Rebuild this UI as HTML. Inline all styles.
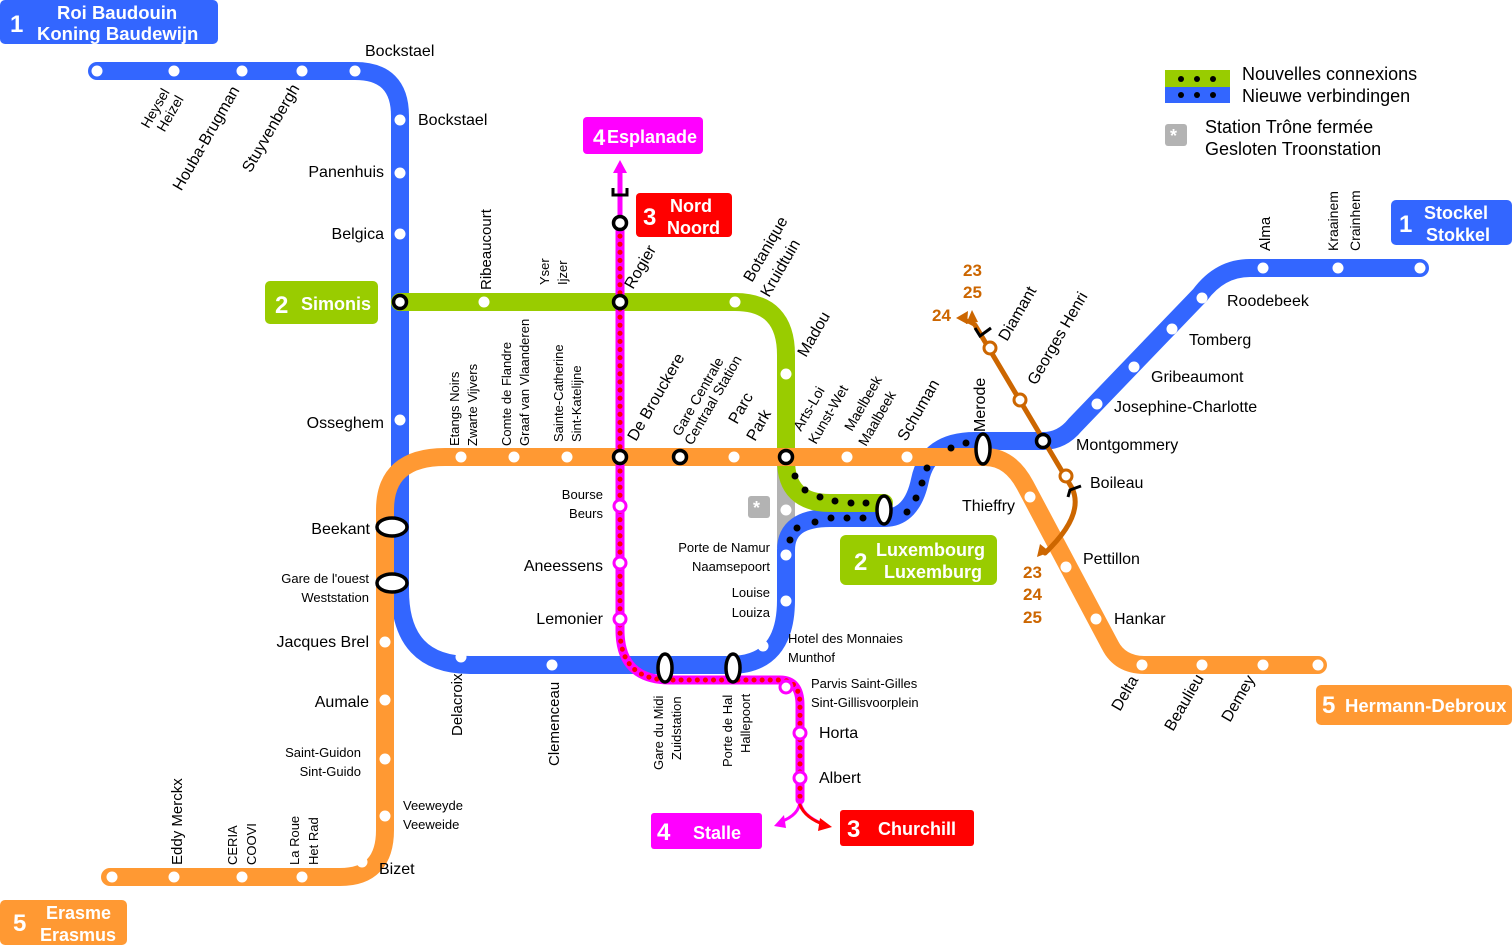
<!DOCTYPE html>
<html><head><meta charset="utf-8"><style>
html,body{margin:0;padding:0;background:#fff}
svg{display:block}
text{font-family:"Liberation Sans",Arial,sans-serif;fill:#000}
.s{font-size:16px}
.m{font-size:13px}
.b{font-weight:bold;fill:#fff}
.br{font-weight:bold;fill:#cc6600;font-size:17px}
</style></head><body>
<svg width="1512" height="945" viewBox="0 0 1512 945" xmlns="http://www.w3.org/2000/svg">
<g fill="none" stroke-linecap="round" stroke-linejoin="round">
<path d="M786,460 L786,548" stroke="#b3b3b3" stroke-width="18" stroke-linecap="butt"/>
<path d="M97,71 L355,71 Q400,71 400,116 L400,590 Q400,665 470,665 L730,665 Q786,665 786,600 L786,550 Q786,518 830,518 L884,518 Q912,518 920,480 Q928,441 975,441 L1043,441 Q1062,441 1075,425 L1200,295 Q1220,268 1250,268 L1420,268" stroke="#3366ff" stroke-width="18"/>
<path d="M400,302 L735,302 Q786,302 786,355 L786,460 Q786,503 830,503 L884,503" stroke="#99cc00" stroke-width="18"/>
<path d="M110,877 L340,877 Q385,877 385,830 L385,510 Q385,457 445,457 L985,457 Q1010,457 1025,485 L1110,645 Q1120,665 1145,665 L1318,665" stroke="#ff9933" stroke-width="18"/>
<path d="M975,325 L1072,488 Q1085,515 1045,553" stroke="#cc6600" stroke-width="5"/>
<path d="M620,170 L620,223" stroke="#ff00ff" stroke-width="5"/>
<path d="M620,223 L620,630 Q620,680 670,680 L780,680 Q800,680 800,705 L800,800" stroke="#ff00ff" stroke-width="9"/>
<path d="M620,228 L620,630 Q620,680 670,680 L780,680 Q800,680 800,705 L800,798" stroke="#ff0000" stroke-width="5" stroke-dasharray="0.1 8"/>
<path d="M800,800 Q800,815 780,822 M800,800 Q800,815 825,825" stroke="#ff00ff" stroke-width="3"/>
<path d="M800,805 Q805,818 825,825" stroke="#ff0000" stroke-width="3"/>
</g>
<polygon points="620,160 613,173 627,173" fill="#ff00ff"/>
<polygon points="774,826 784,815 786,828" fill="#ff00ff"/>
<polygon points="832,827 820,818 818,831" fill="#ff0000"/>
<polygon points="1037,557 1040,544 1050,552" fill="#cc6600"/>
<polygon points="972,310 966,324 978,322" fill="#cc6600"/>
<path d="M975,325 L962,318" stroke="#cc6600" stroke-width="4"/>
<polygon points="956,318 968,311 967,324" fill="#cc6600"/>
<path d="M613,188 L613,195 L627,195 L627,188 M975,328 L980,336 L991,328 M1068,497 L1070,490 L1081,486" stroke="#000" stroke-width="3" fill="none"/>
<g fill="#000">
<circle cx="795" cy="476" r="3.5"/><circle cx="805" cy="490" r="3.5"/><circle cx="820" cy="497" r="3.5"/><circle cx="835" cy="501" r="3.5"/><circle cx="851" cy="503" r="3.5"/><circle cx="866" cy="503" r="3.5"/>
<circle cx="790" cy="540" r="3.5"/><circle cx="797" cy="528" r="3.5"/><circle cx="815" cy="522" r="3.5"/><circle cx="831" cy="518" r="3.5"/><circle cx="847" cy="518" r="3.5"/><circle cx="863" cy="518" r="3.5"/>
<circle cx="907" cy="512" r="3.5"/><circle cx="916" cy="498" r="3.5"/><circle cx="922" cy="483" r="3.5"/><circle cx="927" cy="468" r="3.5"/><circle cx="951" cy="448" r="3.5"/><circle cx="966" cy="443" r="3.5"/>
</g>
<g fill="#fff">
<circle cx="97" cy="71" r="5.5"/><circle cx="174" cy="71" r="5.5"/><circle cx="242" cy="71" r="5.5"/><circle cx="302" cy="71" r="5.5"/><circle cx="355" cy="71" r="5.5"/>
<circle cx="400" cy="120" r="5.5"/><circle cx="400" cy="173" r="5.5"/><circle cx="400" cy="234" r="5.5"/><circle cx="400" cy="420" r="5.5"/>
<circle cx="484" cy="302" r="5.5"/><circle cx="735" cy="302" r="5.5"/><circle cx="786" cy="374" r="5.5"/>
<circle cx="461" cy="457" r="5.5"/><circle cx="514" cy="457" r="5.5"/><circle cx="567" cy="457" r="5.5"/><circle cx="734" cy="457" r="5.5"/><circle cx="847" cy="457" r="5.5"/><circle cx="907" cy="457" r="5.5"/>
<circle cx="1030" cy="497" r="5.5"/><circle cx="1066" cy="567" r="5.5"/><circle cx="1096" cy="619" r="5.5"/><circle cx="1142" cy="665" r="5.5"/><circle cx="1202" cy="665" r="5.5"/><circle cx="1263" cy="665" r="5.5"/><circle cx="1318" cy="665" r="5.5"/>
<circle cx="385" cy="642" r="5.5"/><circle cx="385" cy="700" r="5.5"/><circle cx="385" cy="759" r="5.5"/><circle cx="385" cy="816" r="5.5"/><circle cx="362" cy="862" r="5.5"/><circle cx="302" cy="877" r="5.5"/><circle cx="242" cy="877" r="5.5"/><circle cx="174" cy="877" r="5.5"/><circle cx="112" cy="877" r="5.5"/>
<circle cx="461" cy="657" r="5.5"/><circle cx="552" cy="665" r="5.5"/><circle cx="786" cy="510" r="5.5"/><circle cx="786" cy="555" r="5.5"/><circle cx="786" cy="601" r="5.5"/><circle cx="763" cy="646" r="5.5"/>
<circle cx="1097" cy="404" r="5.5"/><circle cx="1134" cy="367" r="5.5"/><circle cx="1172" cy="329" r="5.5"/><circle cx="1202" cy="298" r="5.5"/><circle cx="1263" cy="268" r="5.5"/><circle cx="1338" cy="268" r="5.5"/><circle cx="1420" cy="268" r="5.5"/>
</g>
<g fill="#fff" stroke="#000" stroke-width="3.5">
<circle cx="400" cy="302" r="6.5"/><circle cx="620" cy="302" r="6.5"/><circle cx="620" cy="457" r="6.5"/><circle cx="680" cy="457" r="6.5"/><circle cx="786" cy="457" r="6.5"/><circle cx="620" cy="223" r="6.5"/><circle cx="1043" cy="441" r="6.5"/>
<ellipse cx="392" cy="527" rx="15" ry="9"/><ellipse cx="392" cy="583" rx="15" ry="9"/>
<ellipse cx="665" cy="668" rx="7" ry="14"/><ellipse cx="733" cy="668" rx="7" ry="14"/>
<ellipse cx="884" cy="510" rx="7" ry="14"/><ellipse cx="983" cy="449" rx="7" ry="15"/>
</g>
<g fill="#fff" stroke="#ff00ff" stroke-width="3">
<circle cx="620" cy="506" r="6"/><circle cx="620" cy="563" r="6"/><circle cx="620" cy="619" r="6"/><circle cx="786" cy="687" r="6"/><circle cx="800" cy="733" r="6"/><circle cx="800" cy="778" r="6"/>
</g>
<g fill="#fff" stroke="#cc6600" stroke-width="3">
<circle cx="990" cy="348" r="6"/><circle cx="1020" cy="400" r="6"/><circle cx="1066" cy="476" r="6"/>
</g>
<rect x="748" y="496" width="22" height="22" rx="3" fill="#b3b3b3"/>
<text x="753" y="514" class="b" font-size="18">*</text>
<rect x="0" y="0" width="218" height="44" rx="5" fill="#3366ff"/>
<text x="10" y="32" class="b" font-size="24">1</text>
<text x="57" y="19" class="b" font-size="18.5">Roi Baudouin</text>
<text x="37" y="40" class="b" font-size="18.5">Koning Baudewijn</text>
<rect x="265" y="281" width="113" height="43" rx="5" fill="#99cc00"/>
<text x="275" y="313" class="b" font-size="24">2</text><text x="301" y="310" class="b" font-size="18">Simonis</text>
<rect x="636" y="193" width="96" height="44" rx="4" fill="#ff0000"/>
<text x="643" y="225" class="b" font-size="24">3</text><text x="670" y="212" class="b" font-size="18">Nord</text><text x="667" y="234" class="b" font-size="18">Noord</text>
<rect x="583" y="117" width="120" height="37" rx="4" fill="#ff00ff"/>
<text x="593" y="145" class="b" font-size="22">4</text><text x="607" y="143" class="b" font-size="18">Esplanade</text>
<rect x="840" y="535" width="157" height="50" rx="6" fill="#99cc00"/>
<text x="854" y="570" class="b" font-size="24">2</text><text x="876" y="556" class="b" font-size="18">Luxembourg</text><text x="884" y="578" class="b" font-size="18">Luxemburg</text>
<rect x="1391" y="200" width="121" height="45" rx="5" fill="#3366ff"/>
<text x="1399" y="232" class="b" font-size="24">1</text><text x="1424" y="219" class="b" font-size="18">Stockel</text><text x="1426" y="241" class="b" font-size="18">Stokkel</text>
<rect x="1316" y="685" width="196" height="40" rx="5" fill="#ff9933"/>
<text x="1322" y="713" class="b" font-size="24">5</text><text x="1345" y="712" class="b" font-size="18.5">Hermann-Debroux</text>
<rect x="651" y="813" width="111" height="36" rx="3" fill="#ff00ff"/>
<text x="657" y="840" class="b" font-size="24">4</text><text x="693" y="839" class="b" font-size="18">Stalle</text>
<rect x="840" y="810" width="134" height="36" rx="3" fill="#ff0000"/>
<text x="847" y="837" class="b" font-size="24">3</text><text x="878" y="835" class="b" font-size="18">Churchill</text>
<rect x="0" y="900" width="127" height="45" rx="5" fill="#ff9933"/>
<text x="13" y="931" class="b" font-size="24">5</text><text x="46" y="919" class="b" font-size="18">Erasme</text><text x="40" y="941" class="b" font-size="18">Erasmus</text>
<rect x="1165" y="70" width="65" height="17" fill="#99cc00"/><rect x="1165" y="87" width="65" height="16" fill="#3366ff"/>
<g fill="#000"><circle cx="1181" cy="79" r="3"/><circle cx="1197" cy="79" r="3"/><circle cx="1213" cy="79" r="3"/><circle cx="1181" cy="95" r="3"/><circle cx="1197" cy="95" r="3"/><circle cx="1213" cy="95" r="3"/></g>
<text x="1242" y="80" font-size="18">Nouvelles connexions</text><text x="1242" y="102" font-size="18">Nieuwe verbindingen</text>
<rect x="1165" y="124" width="22" height="22" rx="3" fill="#b3b3b3"/><text x="1170" y="142" class="b" font-size="18">*</text>
<text x="1205" y="133" font-size="18">Station Trône fermée</text><text x="1205" y="155" font-size="18">Gesloten Troonstation</text>
<text x="963" y="276" class="br">23</text><text x="963" y="298" class="br">25</text><text x="932" y="321" class="br">24</text>
<text x="1023" y="578" class="br">23</text><text x="1023" y="600" class="br">24</text><text x="1023" y="623" class="br">25</text>
<g class="s">
<text x="365" y="56">Bockstael</text><text x="418" y="125">Bockstael</text>
<text x="384" y="177" text-anchor="end">Panenhuis</text><text x="384" y="239" text-anchor="end">Belgica</text>
<text x="384" y="428" text-anchor="end">Osseghem</text><text x="370" y="534" text-anchor="end">Beekant</text>
<text x="369" y="647" text-anchor="end">Jacques Brel</text><text x="369" y="707" text-anchor="end">Aumale</text>
<text x="379" y="874">Bizet</text>
<text x="603" y="571" text-anchor="end">Aneessens</text><text x="603" y="624" text-anchor="end">Lemonier</text>
<text x="819" y="738">Horta</text><text x="819" y="783">Albert</text>
<text x="962" y="511">Thieffry</text><text x="1083" y="564">Pettillon</text><text x="1114" y="624">Hankar</text>
<text x="1076" y="450">Montgommery</text><text x="1090" y="488">Boileau</text>
<text x="1114" y="412">Josephine-Charlotte</text><text x="1151" y="382">Gribeaumont</text>
<text x="1189" y="345">Tomberg</text><text x="1227" y="306">Roodebeek</text>
</g>
<g class="m">
<text x="369" y="583" text-anchor="end">Gare de l'ouest</text><text x="369" y="602" text-anchor="end">Weststation</text>
<text x="361" y="757" text-anchor="end">Saint-Guidon</text><text x="361" y="776" text-anchor="end">Sint-Guido</text>
<text x="403" y="810">Veeweyde</text><text x="403" y="829">Veeweide</text>
<text x="603" y="499" text-anchor="end">Bourse</text><text x="603" y="518" text-anchor="end">Beurs</text>
<text x="770" y="552" text-anchor="end">Porte de Namur</text><text x="770" y="571" text-anchor="end">Naamsepoort</text>
<text x="770" y="597" text-anchor="end">Louise</text><text x="770" y="617" text-anchor="end">Louiza</text>
<text x="788" y="643">Hotel des Monnaies</text><text x="788" y="662">Munthof</text>
<text x="811" y="688">Parvis Saint-Gilles</text><text x="811" y="707">Sint-Gillisvoorplein</text>
</g>
<g class="m">
<text transform="translate(170,92) rotate(-60)" text-anchor="end" font-size="14">Heysel</text>
<text transform="translate(184,99) rotate(-60)" text-anchor="end" font-size="14">Heizel</text>
<text transform="translate(240,90) rotate(-60)" text-anchor="end" font-size="16">Houba-Brugman</text>
<text transform="translate(300,88) rotate(-60)" text-anchor="end" font-size="16">Stuyvenbergh</text>
</g>
<g class="s">
<text transform="translate(633,290) rotate(-60)">Rogier</text>
<text transform="translate(752,283) rotate(-60)">Botanique</text>
<text transform="translate(769,298) rotate(-60)">Kruidtuin</text>
<text transform="translate(806,358) rotate(-60)">Madou</text>
<text transform="translate(636,442) rotate(-60)">De Brouckere</text>
<text transform="translate(680,437) rotate(-60)" font-size="14">Gare Centrale</text>
<text transform="translate(692,446) rotate(-60)" font-size="14">Centraal Station</text>
<text transform="translate(737,425) rotate(-60)">Parc</text>
<text transform="translate(755,442) rotate(-60)">Park</text>
<text transform="translate(801,432) rotate(-60)" font-size="14">Arts-Loi</text>
<text transform="translate(816,445) rotate(-60)" font-size="14">Kunst-Wet</text>
<text transform="translate(852,432) rotate(-60)" font-size="14">Maelbeek</text>
<text transform="translate(866,447) rotate(-60)" font-size="14">Maalbeek</text>
<text transform="translate(906,442) rotate(-60)">Schuman</text>
<text transform="translate(1007,342) rotate(-60)">Diamant</text>
<text transform="translate(1036,386) rotate(-60)">Georges Henri</text>
<text transform="translate(1120,712) rotate(-60)">Delta</text>
<text transform="translate(1173,732) rotate(-60)">Beaulieu</text>
<text transform="translate(1230,723) rotate(-60)">Demey</text>
</g>
<g class="m">
<text transform="translate(491,290) rotate(-90)" font-size="15">Ribeaucourt</text>
<text transform="translate(549,285) rotate(-90)">Yser</text>
<text transform="translate(567,285) rotate(-90)">Ijzer</text>
<text transform="translate(459,446) rotate(-90)">Etangs Noirs</text>
<text transform="translate(477,446) rotate(-90)">Zwarte Vijvers</text>
<text transform="translate(511,446) rotate(-90)">Comte de Flandre</text>
<text transform="translate(529,446) rotate(-90)">Graaf van Vlaanderen</text>
<text transform="translate(563,442) rotate(-90)">Sainte-Catherine</text>
<text transform="translate(581,442) rotate(-90)">Sint-Katelijne</text>
<text transform="translate(985,432) rotate(-90)" font-size="16">Merode</text>
<text transform="translate(1270,251) rotate(-90)" font-size="15">Alma</text>
<text transform="translate(1338,251) rotate(-90)" font-size="14">Kraainem</text>
<text transform="translate(1360,251) rotate(-90)" font-size="14">Crainhem</text>
<text transform="translate(462,736) rotate(-90)" font-size="15">Delacroix</text>
<text transform="translate(559,766) rotate(-90)" font-size="15">Clemenceau</text>
<text transform="translate(663,770) rotate(-90)">Gare du Midi</text>
<text transform="translate(681,760) rotate(-90)">Zuidstation</text>
<text transform="translate(732,767) rotate(-90)">Porte de Hal</text>
<text transform="translate(750,753) rotate(-90)">Hallepoort</text>
<text transform="translate(182,865) rotate(-90)" font-size="15">Eddy Merckx</text>
<text transform="translate(237,865) rotate(-90)">CERIA</text>
<text transform="translate(256,865) rotate(-90)">COOVI</text>
<text transform="translate(299,865) rotate(-90)">La Roue</text>
<text transform="translate(318,865) rotate(-90)">Het Rad</text>
</g>
</svg>
</body></html>
